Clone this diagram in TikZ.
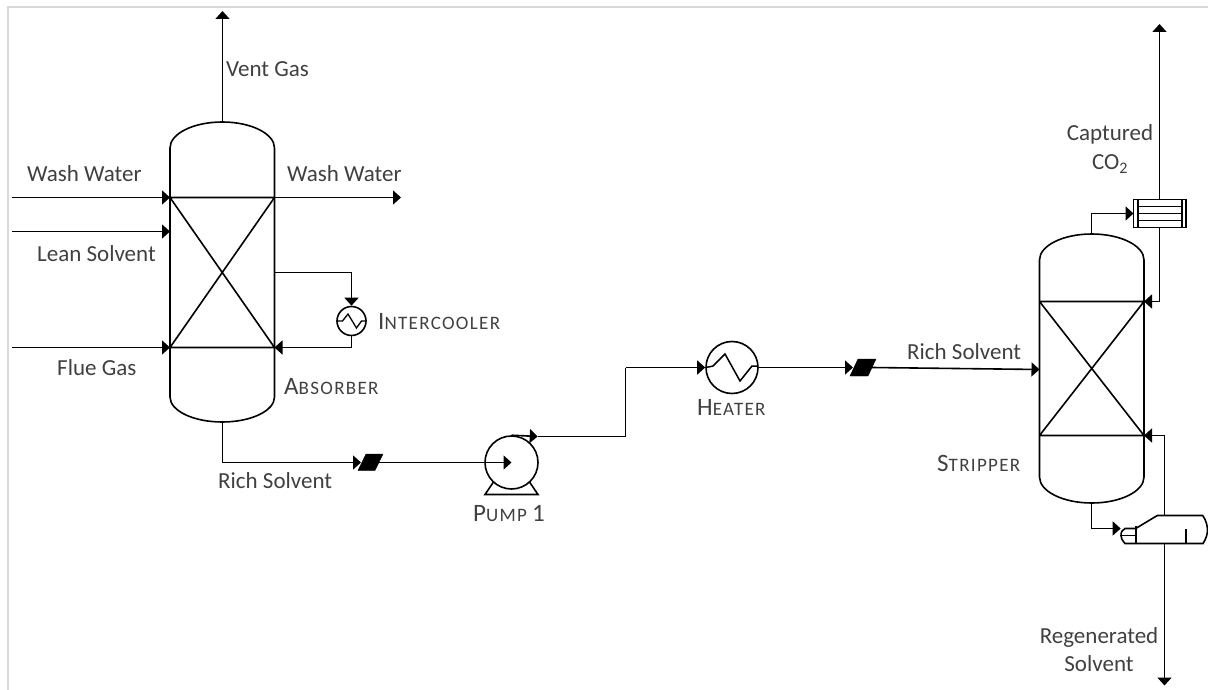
\documentclass[tikz,border=0pt]{standalone}
\usepackage{fontspec}
\setmainfont{Carlito}
\usetikzlibrary{arrows.meta,calc}
\definecolor{txt}{HTML}{404040}
\definecolor{framegrey}{HTML}{D9D9D9}
\newcommand{\smc}[2]{{\fontsize{25}{26}\selectfont #1}{\fontsize{19}{19}\selectfont\addfontfeature{LetterSpace=7}#2}}
\tikzset{
  x=1pt,y=-1pt,
  pipe/.style={line width=1.6pt,line join=miter},
  flow/.style={pipe,-{Triangle[length=8pt,width=14pt]}},
  equip/.style={line width=1.6pt},
  lab/.style={font=\fontsize{23}{26}\selectfont,text=txt,inner sep=0pt,align=center},
  valveshape/.style={fill=black,draw=black,line width=0.4pt},
  hx/.style={circle,draw=black,line width=1.6pt,inner sep=0pt,fill=white},
}
\begin{document}
\begin{tikzpicture}
\useasboundingbox (0,0) rectangle (1208,690);
% frame
\draw[framegrey,line width=1.5pt] (8,690) -- (8,7) -- (1208,7);
% ports
\coordinate (ventTop) at (222.5,11);
\coordinate (absTop) at (222.5,122);
\coordinate (absBot) at (222.5,422);
\coordinate (absTL) at (170,197.5);
\coordinate (absTR) at (274.5,197.5);
\coordinate (absBL) at (170,347.5);
\coordinate (absBR) at (274.5,347.5);
\coordinate (absLean) at (170,231.5);
\coordinate (absTap) at (274.5,272.5);
\coordinate (wwIn) at (12,197.5);
\coordinate (leanIn) at (12,231.5);
\coordinate (flueIn) at (12,347.5);
\coordinate (wwOut) at (401,197.5);
% absorber
\draw[equip] (170,148) arc[start angle=180,end angle=360,x radius=52.25,y radius=26]
  -- (274.5,397) arc[start angle=0,end angle=180,x radius=52.25,y radius=25] -- cycle;
\draw[equip] (absTL) -- (absTR) (absBL) -- (absBR) (absTL) -- (absBR) (absTR) -- (absBL);
% intercooler
\node[hx,minimum size=29pt] (ic) at (351.5,321) {};
\draw[line width=1.3pt] (337.5,321) -- (342.5,321) -- (348,314) -- (356.5,328) -- (361.5,321) -- (365.5,321);
% pump
\node[hx,minimum size=53pt] (pump) at (511.5,462.5) {};
\draw[equip] (493.5,482) -- (485,494.5) -- (538,494.5) -- (529.5,482);
% heater
\node[hx,minimum size=52pt] (heater) at (732,367.5) {};
\draw[line width=1.5pt] (706,367.5) -- (713,366) -- (725,354) -- (740,381) -- (752,366) -- (758,366);
% valves
\path[valveshape,draw] (358,470.5) -- (366,454) -- (383,454) -- (375,470.5) -- cycle;
\coordinate (v1in) at (361,462.5); \coordinate (v1out) at (379,462.5);
\path[valveshape,draw] (850,376) -- (858,359) -- (876,359) -- (868,376) -- cycle;
\coordinate (v2in) at (853,367.5); \coordinate (v2out) at (872,367.5);
% stripper
\coordinate (strTop) at (1091.5,234);
\coordinate (strBot) at (1091.5,503);
\coordinate (strTL) at (1039.5,301.5);
\coordinate (strTR) at (1144,301.5);
\coordinate (strBL) at (1039.5,435.5);
\coordinate (strBR) at (1144,435.5);
\coordinate (strFeed) at (1039.5,369.5);
\draw[equip] (1039.5,260) arc[start angle=180,end angle=360,x radius=52.25,y radius=26]
  -- (1144,477) arc[start angle=0,end angle=180,x radius=52.25,y radius=26] -- cycle;
\draw[equip] (strTL) -- (strTR) (strBL) -- (strBR) (strTL) -- (strBR) (strTR) -- (strBL);
% condenser
\draw[equip] (1133.5,199.5) rectangle (1186,227.5);
\draw[equip] (1137.7,199.5) -- (1137.7,227.5) (1181.7,199.5) -- (1181.7,227.5)
  (1137.7,206.5) -- (1181.7,206.5) (1137.7,213.5) -- (1181.7,213.5) (1137.7,220.5) -- (1181.7,220.5);
\coordinate (condL) at (1133.5,213.5);
\coordinate (condT) at (1159.5,199.5);
\coordinate (condB) at (1159.5,227.5);
\coordinate (co2Top) at (1159.5,24);
% reboiler
\draw[equip] (1135.7,528.5) -- (1157.3,515.5) -- (1202.7,515.5)
  .. controls (1206,520) and (1207.5,526) .. (1207.5,530)
  .. controls (1207.5,534) and (1206,539) .. (1203,543.5) -- (1125,543.5)
  .. controls (1122,540) and (1121,538) .. (1121,535.5)
  .. controls (1121,532) and (1122,530) .. (1125,528.5) -- (1135.7,528.5);
\draw[equip] (1135.7,526) -- (1135.7,543.5) (1121,535.5) -- (1135.7,535.5) (1186,529) -- (1186,543.5);
\coordinate (rebIn) at (1120.7,528.5);
\coordinate (rebTop) at (1164.5,515.5);
\coordinate (rebBot) at (1164.5,543.5);
\coordinate (regenEnd) at (1164.5,685.5);
% connectors
\draw[flow] (absTop) -- (ventTop);
\draw[flow] (wwIn) -- (absTL);
\draw[flow] (leanIn) -- (absLean);
\draw[flow] (flueIn) -- (absBL);
\draw[flow] (absTR) -- (wwOut);
\draw[flow] (absTap) -| (ic.north);
\draw[flow] (ic.south) |- (absBR);
\draw[flow] (absBot) |- (v1in);
\draw[flow] (v1out) -- (pump.center);
\draw[flow] (pump.north) -- (537.7,436.5);
\draw[pipe] (537.7,436.5) -- (625.5,436.5) -- (625.5,367.5);
\draw[flow] (625.5,367.5) -- (heater.west);
\draw[flow] (heater.east) -- (v2in);
\draw[flow] (v2out) -- (strFeed);
\draw[flow] (strTop) |- (condL);
\draw[flow] (condT) -- (co2Top);
\draw[flow] (condB) |- (strTR);
\draw[flow] (strBot) |- (rebIn);
\draw[flow] (rebTop) |- (strBR);
\draw[flow] (rebBot) -- (regenEnd);
% labels
\node[lab,anchor=west] (l1) at (226,69) {Vent Gas};
\node[lab,anchor=west] (l2) at (27,174) {Wash Water};
\node[lab,anchor=west] (l3) at (287,174) {Wash Water};
\node[lab,anchor=west] (l4) at (37,254) {Lean Solvent};
\node[lab,anchor=west] (l5) at (57,368) {Flue Gas};
\node[lab,anchor=west] (l6) at (218,481) {Rich Solvent};
\node[lab,anchor=west] (l7) at (378,322) {\smc{I}{NTERCOOLER}};
\node[lab,anchor=west] (l8) at (284,387) {\smc{A}{BSORBER}};
\node[lab,anchor=west] (l9) at (473,514) {\smc{P}{UMP} {\fontsize{25}{26}\selectfont 1}};
\node[lab,anchor=west] (l10) at (697,407) {\smc{H}{EATER}};
\node[lab,anchor=west] (l11) at (907,352) {Rich Solvent};
\node[lab,anchor=west] (l12) at (937,463) {\smc{S}{TRIPPER}};
\node[lab] (l13) at (1110,149) {Captured\\[3pt]CO\textsubscript{2}};
\node[lab] (l14) at (1099,650) {Regenerated\\[2pt]Solvent};
\end{tikzpicture}
\end{document}
